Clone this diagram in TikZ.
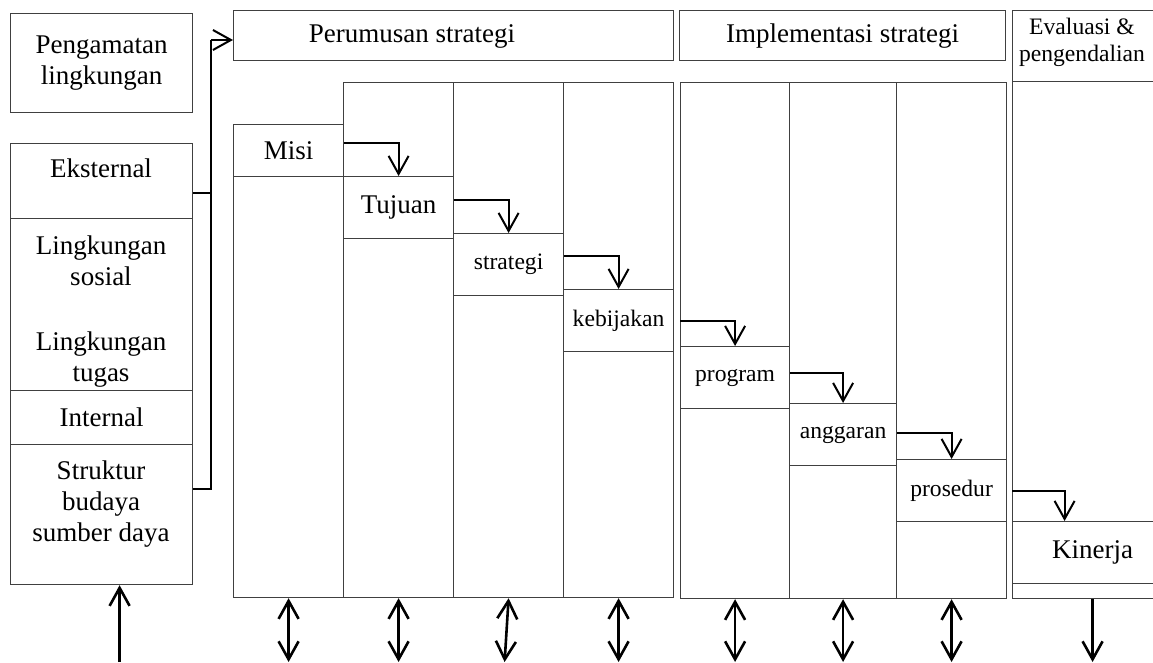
\documentclass[tikz,border=0pt]{standalone}
\usepackage{fontspec}
\setmainfont{Liberation Serif}
\usetikzlibrary{arrows.meta}
\newcommand{\bigtxt}{\fontsize{13.5}{15.5}\selectfont}
\newcommand{\smalltxt}{\fontsize{11.8}{13.5}\selectfont}
\tikzset{
	cell/.style     ={rectangle, draw=black!75, line width=0.6pt, inner sep=0pt, anchor=north west, align=center, font=\bigtxt},
	stepbox/.style  ={cell, minimum height=31pt, font=\smalltxt},
	txt/.style      ={align=center, font=\bigtxt, inner sep=0pt},
	flowarrow/.style={-{Straight Barb[length=9pt, width=10pt]}, line width=1pt},
	twoway/.style   ={{Straight Barb[length=9pt, width=10pt]}-{Straight Barb[length=9pt, width=10pt]}, line width=1.3pt},
	joinline/.style ={line width=1pt},
}
\begin{document}
\begin{tikzpicture}[x=0.5pt, y=-0.5pt]
	\useasboundingbox (0,0) rectangle (1153,663);
	% environmental scanning
	\node[cell, minimum width=91pt, minimum height=49.5pt] (amati) at (10,13) {Pengamatan\\ lingkungan};
	\node[cell, minimum width=91pt, minimum height=37.5pt] (eks) at (10,143) {};
	\node[cell, minimum width=91pt, minimum height=86pt] (lingk) at (10,218) {};
	\node[cell, minimum width=91pt, minimum height=27pt] (intern) at (10,390) {Internal};
	\node[cell, minimum width=91pt, minimum height=70pt] (struk) at (10,444) {};
	\node[txt] (teks) at (101,168) {Eksternal};
	\node[txt] (tsos) at (101,261) {Lingkungan\\ sosial};
	\node[txt] (ttgs) at (101,360) {Lingkungan\\ tugas};
	\node[txt, text depth=0pt] (tstr) at (101,501) {Struktur\\ budaya\\ sumber daya};
	% headers
	\node[cell, minimum width=220pt, minimum height=25pt] (rumus) at (233,10) {};
	\node[txt] (trumus) at (412,36) {Perumusan strategi};
	\node[cell, minimum width=163pt, minimum height=25pt] (impl) at (679,10) {Implementasi strategi};
	\node[cell, minimum width=80pt, minimum height=35.5pt] (eval) at (1012,10) {};
	\node[txt, font=\smalltxt] (teval) at (1082,42) {Evaluasi \&\\ pengendalian};
	% columns
	\foreach \nm/\x/\y/\w/\h in {c1/233/124/55/236.5, c2/343/82/55/257.5, c3/453/82/55/257.5, c4/563/82/55/257.5,
		c5/680/82/54.5/258, c6/789/82/53.5/258, c7/896/82/55/258, c8/1012/81/80/258.5}
		\node[cell, minimum width=\w pt, minimum height=\h pt] (\nm) at (\x,\y) {};
	% steps
	\node[cell, minimum width=55pt, minimum height=26pt] (misi) at (233,124) {Misi};
	\node[stepbox, minimum width=55pt, font=\bigtxt] (tujuan) at (343,176) {Tujuan};
	\node[stepbox, minimum width=55pt] (strat) at (453,233) {strategi};
	\node[stepbox, minimum width=55pt] (bijak) at (563,289) {kebijakan};
	\node[stepbox, minimum width=54.5pt] (prog) at (680,346) {program};
	\node[stepbox, minimum width=53.5pt] (angg) at (789,403) {anggaran};
	\node[stepbox, minimum width=55pt] (pros) at (896,459) {prosedur};
	\node[stepbox, minimum width=80pt, font=\bigtxt] (kinerja) at (1012,521) {Kinerja};
	% left connector
	\coordinate (jt) at (211,40);
	\draw[joinline] ([yshift=-6pt]eks.east) -| (jt);
	\draw[joinline] ([yshift=13pt]struk.east) -| (jt);
	\draw[flowarrow] (jt) -- (jt -| rumus.west);
	% cascade
	\draw[flowarrow] ([yshift=4pt]misi.east) -| (tujuan.north);
	\draw[flowarrow] ([yshift=4pt]tujuan.east) -| (strat.north);
	\draw[flowarrow] ([yshift=4.5pt]strat.east) -| (bijak.north);
	\draw[flowarrow] (c5.west |- bijak.east) -| (prog.north);
	\draw[flowarrow] ([yshift=2.5pt]prog.east) -| (angg.north);
	\draw[flowarrow] ([yshift=1pt]angg.east) -| (pros.north);
	\draw[flowarrow] (c8.west |- pros.east) -| ([xshift=-14pt]kinerja.north);
	% bottom arrows
	\coordinate (bot) at (0,662);
	\foreach \c in {c1,c2,c4,c5,c6,c7}
		\draw[twoway] (\c.south) -- (\c.south |- bot);
	\draw[twoway] (c3.south) -- ([xshift=-2pt]c3.south |- bot);
	\draw[flowarrow, line width=1.3pt] (c8.south) -- (c8.south |- bot);
	\draw[flowarrow, line width=1.3pt] ([xshift=9pt]struk.south |- bot) -- ([xshift=9pt]struk.south);
\end{tikzpicture}
\end{document}
